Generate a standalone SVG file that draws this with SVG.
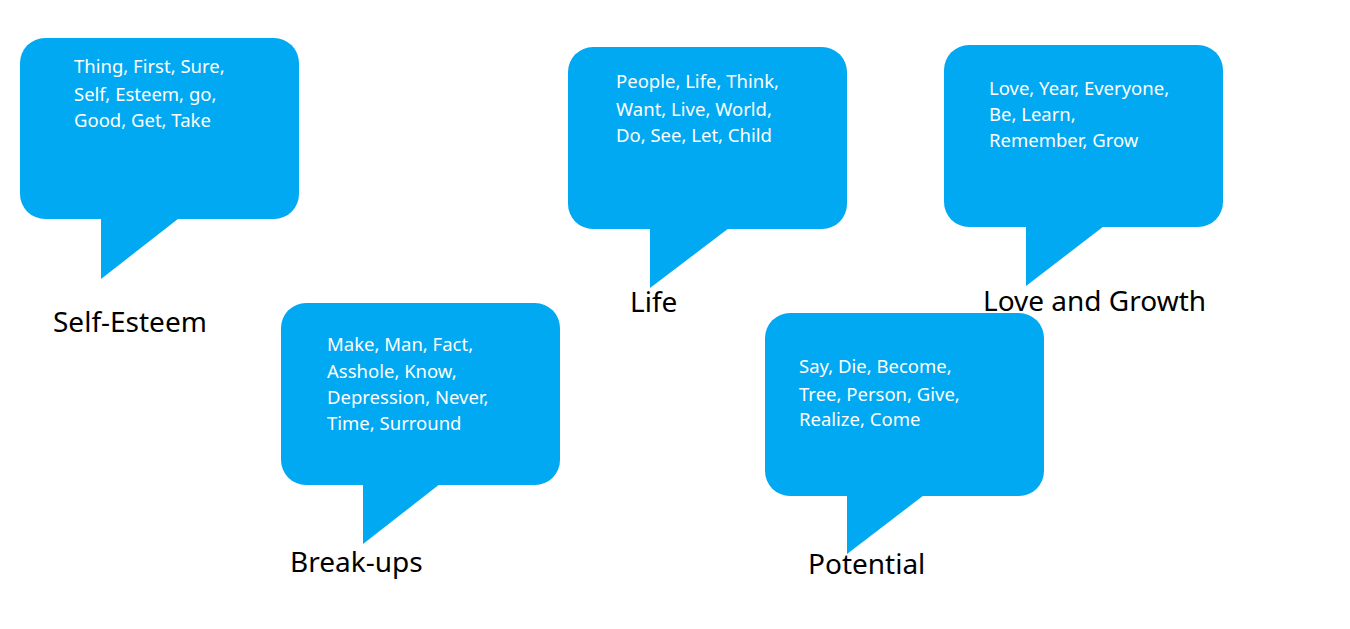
<svg xmlns="http://www.w3.org/2000/svg" width="1350" height="629" viewBox="0 0 1350 629">
<style>
.b{fill:#00A9F1}
.t{font-family:"Noto Sans","Open Sans",sans-serif;font-size:18.5px;fill:#ffffff}
.l{font-family:"Noto Sans","Open Sans",sans-serif;font-size:28px;fill:#000000}
</style>
<rect width="1350" height="629" fill="#ffffff"/>
<g id="self-esteem">
<rect class="b" x="20" y="38" width="279" height="181" rx="25"/>
<polygon class="b" points="101,215 101,279 183,215"/>
<text class="t"><tspan x="74" y="73">Thing, First, Sure,</tspan><tspan x="74" y="101">Self, Esteem, go,</tspan><tspan x="74" y="127">Good, Get, Take</tspan></text>
<text class="l" x="53" y="332">Self-Esteem</text>
</g>
<g id="break-ups">
<rect class="b" x="281" y="303" width="279" height="182" rx="25"/>
<polygon class="b" points="363,480 363,544 445,480"/>
<text class="t"><tspan x="327" y="351">Make, Man, Fact,</tspan><tspan x="327" y="378">Asshole, Know,</tspan><tspan x="327" y="404">Depression, Never,</tspan><tspan x="327" y="430">Time, Surround</tspan></text>
<text class="l" x="290" y="572">Break-ups</text>
</g>
<g id="life">
<rect class="b" x="568" y="47" width="279" height="182" rx="25"/>
<polygon class="b" points="650,225 650,288 733,225"/>
<text class="t"><tspan x="616" y="88">People, Life, Think,</tspan><tspan x="616" y="116">Want, Live, World,</tspan><tspan x="616" y="142">Do, See, Let, Child</tspan></text>
<text class="l" x="630" y="312">Life</text>
</g>
<g id="potential">
<rect class="b" x="765" y="313" width="279" height="183" rx="25"/>
<polygon class="b" points="847,492 847,554 928,492"/>
<text class="t"><tspan x="799" y="373">Say, Die, Become,</tspan><tspan x="799" y="401">Tree, Person, Give,</tspan><tspan x="799" y="426">Realize, Come</tspan></text>
<text class="l" x="808" y="574">Potential</text>
</g>
<g id="love-and-growth">
<rect class="b" x="944" y="45" width="279" height="182" rx="25"/>
<polygon class="b" points="1026,223 1026,286 1108,223"/>
<text class="t"><tspan x="989" y="95">Love, Year, Everyone,</tspan><tspan x="989" y="121">Be, Learn,</tspan><tspan x="989" y="147">Remember, Grow</tspan></text>
<text class="l" x="983" y="311">Love and Growth</text>
</g>
<g id="connectors"></g>
</svg>
